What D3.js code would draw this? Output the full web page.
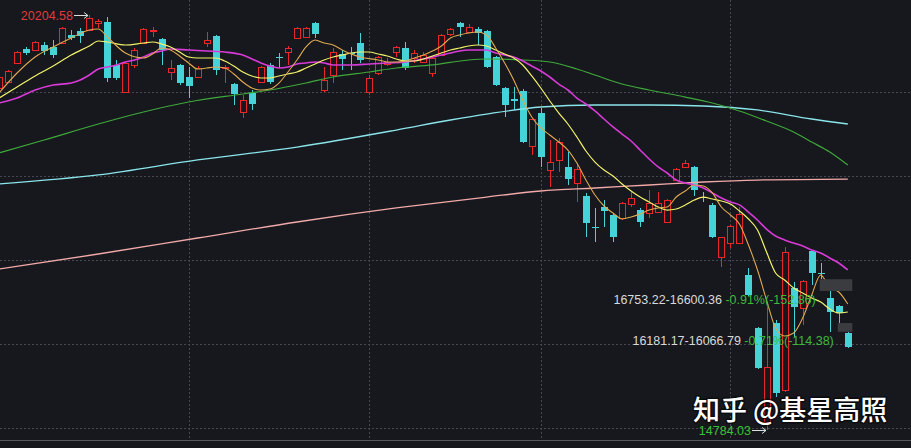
<!DOCTYPE html>
<html><head><meta charset="utf-8">
<script src="https://cdn.jsdelivr.net/npm/d3@7/dist/d3.min.js"></script>
<style>html,body{margin:0;padding:0;background:#16181d;overflow:hidden}</style>
</head><body>
<svg id="c" width="911" height="448"></svg>
<script>
// ---- data ----
const opens  = [19251,19329,19577,19760,19747,19812,19786,19838,19943,19995,20008,20100,20113,19551,19198,19551,19838,19995,19891,19460,19551,19394,19394,19838,19930,19512,19303,18938,19185,19329,19551,19656,19721,19904,19917,20100,19225,19420,19695,19708,19838,19198,19447,19564,19721,19773,19643,19590,19447,19682,19956,20100,19982,20021,19995,19656,19251,19107,19212,18494,18924,18180,18311,18219,18010,17840,17436,17697,17592,17553,17736,17658,17618,17631,17501,18049,18219,18219,17827,17723,17044,17227,17227,16808,16116,14889,16182,15306,16639,16377,17122,16835,16508,16404,16051];
const highs  = [19420,19486,19734,19786,19865,19851,19878,20047,20008,20034,20204.58,20152,20178,19616,19590,19773,20034,20047,19904,19616,19564,19525,19538,19982,19943,19551,19316,19160,19225,19538,19577,19708,19799,20047,20047,20113,19525,19773,19747,19786,19969,19420,19669,19643,19799,19851,19747,19721,19656,19956,20034,20113,20087,20047,20008,19669,19264,19264,19238,18846,18990,18572,18598,18415,18271,17880,17684,17788,17618,17762,17893,17684,17919,17893,17801,18206,18311,18232,17893,17749,17305,17462,17697,16900,16129,16391,16221,17174,16717,16743,17135,16965,16600.36,16417,16066.79];
const lows   = [19225,19316,19564,19682,19734,19682,19643,19825,19878,19838,19995,20034,19329,19355,19185,19512,19825,19917,19551,19355,19290,19120,19381,19786,19420,19316,19029,18859,18964,19316,19303,19512,19551,19891,19904,19904,19198,19316,19486,19486,19577,19160,19420,19538,19656,19486,19577,19577,19394,19669,19930,19917,19969,19812,19512,19277,18872,18964,18533,18376,18219,17958,18154,17984,17762,17305,17240,17436,17240,17527,17697,17436,17553,17618,17488,18036,18206,17840,17762,17292,16913,17161,17227,16534,15581,14784.03,15215,15280,16000,16155,16678,16753.22,16064,16181.17,15851];
const closes = [19394,19473,19721,19708,19851,19734,19682,20034,19904,19930,20165,20126,19381,19381,19577,19747,20021,20008,19747,19512,19316,19277,19512,19878,19486,19525,19172,19094,19042,19525,19329,19643,19773,20034,20034,19956,19355,19721,19629,19695,19616,19381,19656,19590,19786,19512,19708,19682,19643,19943,20021,20047,20047,19969,19525,19290,19029,19081,18546,18846,18350,18285,18546,18062,18193,17488,17423,17645,17305,17749,17814,17501,17749,17749,17788,18193,18271,17919,17814,17305,17305,17449,17605,16547,15594,15607,15267,17109,16391,16730,16835,16822,16325,16312,15864];

// moving averages: [candle index, value]
const ma5 = [[0,19186],[2,19447],[4,19656],[6,19787],[8,19904],[10,20009],[11,20022],[12,19917],[14,19708],[16,19643],[17,19695],[18,19774],[19,19747],[20,19669],[21,19578],[22,19499],[23,19512],[24,19525],[25,19512],[26,19434],[27,19329],[28,19251],[29,19225],[30,19238],[31,19316],[32,19460],[33,19617],[34,19787],[35,19878],[36,19839],[37,19813],[38,19747],[39,19695],[40,19656],[42,19617],[43,19591],[44,19591],[45,19604],[46,19643],[47,19682],[48,19734],[49,19800],[50,19904],[51,19943],[52,19969],[53,19982],[54,19943],[55,19774],[56,19578],[57,19356],[58,19094],[59,18872],[60,18729],[61,18637],[62,18546],[63,18441],[64,18271],[65,18050],[66,17853],[67,17710],[68,17618],[69,17540],[70,17566],[71,17605],[72,17657],[73,17684],[74,17697],[75,17827],[76,17906],[77,17984],[78,17971],[79,17880],[80,17697],[81,17592],[82,17475],[83,17200],[84,16874],[85,16482],[86,16116],[87,16011],[88,16051],[89,16247],[90,16547],[91,16809],[92,16639],[93,16587],[94,16430]];
const ma10 = [[0,19120],[2,19264],[4,19408],[6,19538],[8,19682],[10,19800],[11,19865],[12,19852],[14,19813],[16,19839],[17,19852],[18,19826],[19,19787],[20,19721],[21,19656],[22,19643],[24,19643],[25,19604],[26,19538],[27,19460],[28,19408],[29,19382],[30,19382],[31,19408],[32,19434],[33,19460],[34,19512],[35,19565],[36,19617],[37,19656],[38,19682],[39,19708],[40,19721],[41,19721],[42,19695],[43,19669],[44,19630],[45,19604],[46,19604],[47,19630],[48,19669],[49,19708],[50,19747],[51,19774],[52,19800],[53,19813],[54,19800],[55,19747],[56,19695],[57,19643],[58,19552],[59,19408],[60,19251],[61,19081],[62,18924],[63,18781],[64,18611],[65,18428],[66,18284],[67,18180],[68,18102],[69,17997],[70,17906],[71,17827],[72,17762],[73,17697],[74,17657],[75,17671],[76,17723],[77,17788],[78,17827],[79,17801],[80,17775],[81,17736],[82,17645],[83,17540],[84,17396],[85,17109],[86,16835],[87,16743],[88,16639],[89,16573],[90,16508],[91,16456],[92,16364],[93,16312],[94,16325]];
const ma20 = [[0,19055],[2,19120],[4,19225],[6,19290],[8,19316],[9,19356],[10,19421],[11,19499],[12,19525],[13,19552],[14,19591],[15,19617],[16,19656],[17,19708],[18,19734],[19,19760],[21,19747],[23,19734],[25,19721],[27,19682],[28,19630],[29,19578],[30,19538],[31,19512],[32,19525],[33,19565],[34,19578],[35,19591],[36,19578],[37,19552],[39,19552],[41,19565],[43,19578],[45,19591],[47,19630],[49,19682],[50,19708],[51,19734],[52,19747],[54,19747],[55,19708],[56,19682],[57,19656],[58,19604],[59,19538],[60,19473],[61,19395],[62,19303],[63,19225],[64,19120],[65,19042],[66,18951],[67,18846],[68,18742],[69,18650],[70,18559],[71,18441],[72,18324],[73,18220],[74,18141],[75,18050],[76,18010],[77,17984],[78,17945],[79,17880],[80,17814],[81,17762],[82,17724],[83,17631],[84,17527],[85,17409],[86,17318],[87,17266],[88,17226],[89,17187],[90,17135],[91,17096],[92,17031],[93,16965],[94,16874]];
const ma60 = [[0,18402],[5,18572],[11,18781],[16,18938],[21,19068],[27,19173],[30,19225],[34,19316],[37,19395],[41,19460],[44,19512],[48,19552],[52,19617],[54,19630],[58,19617],[61,19591],[64,19499],[66,19421],[69,19303],[72,19225],[76,19133],[79,19055],[82,18951],[85,18820],[88,18676],[90,18546],[92,18415],[94,18245]];
const ma120 = [[0,17997],[11,18115],[22,18311],[33,18480],[44,18702],[50,18833],[54,18911],[60,19003],[66,19029],[72,19029],[78,19016],[84,18964],[90,18846],[94,18781]];
const ma250 = [[0,16887],[11,17083],[22,17292],[33,17501],[44,17684],[54,17827],[60,17906],[66,17945],[72,17984],[78,18023],[84,18049],[94,18062]];

const monthStarts = [21, 41, 60, 81];
const gridPrices = [19199, 18102, 17004, 15907, 14810];
const highMark = {index: 10, value: 20204.58, text: "20204.58"};
const lowMark  = {index: 85, value: 14784.03, text: "14784.03"};
const gaps = [
  {start: 91, hi: 16753.22, lo: 16600.36, range: "16753.22-16600.36", change: "-0.91%(-152.86)"},
  {start: 93, hi: 16181.17, lo: 16066.79, range: "16181.17-16066.79", change: "-0.71%(-114.38)"}
];
const bottomText = "8477";
const watermark = "知乎 @基星高照";

// ---- drawing ----
const W = 911, H = 448;
const svg = d3.select("#c");
svg.append("rect").attr("width", W).attr("height", H).attr("fill", "#16181d");

const x = d3.scaleLinear().domain([0, 94]).range([-1, 847.8]);
const y = d3.scaleLinear().domain([20204.58, 14784.03]).range([15, 430]);

const grid = svg.append("g").attr("stroke", "#454850").attr("stroke-dasharray", "2,2").attr("stroke-width", 1);
gridPrices.forEach(p => {
  const yy = Math.round(y(p)) + 0.5;
  grid.append("line").attr("x1", 0).attr("x2", W).attr("y1", yy).attr("y2", yy);
});
monthStarts.forEach(i => {
  const xx = Math.round(x(i)) + 0.5;
  grid.append("line").attr("x1", xx).attr("x2", xx).attr("y1", 0).attr("y2", 440);
});

// bottom separator
svg.append("line").attr("x1", 0).attr("x2", W).attr("y1", 440.5).attr("y2", 440.5)
  .attr("stroke", "#55585e").attr("stroke-width", 1);

const RED = "#e8262c", CYAN = "#45d3d8";
const cg = svg.append("g");
opens.forEach((o, i) => {
  const c = closes[i], h = highs[i], l = lows[i];
  const cx = Math.round(x(i));
  const up = c >= o;
  const top = Math.round(y(Math.max(o, c))), bot = Math.round(y(Math.min(o, c)));
  const yh = Math.round(y(h)), yl = Math.round(y(l));
  if (up) {
    if (top > yh) cg.append("line").attr("x1", cx + 0.5).attr("x2", cx + 0.5).attr("y1", yh).attr("y2", top).attr("stroke", RED);
    if (yl > bot) cg.append("line").attr("x1", cx + 0.5).attr("x2", cx + 0.5).attr("y1", bot).attr("y2", yl).attr("stroke", RED);
    cg.append("rect").attr("x", cx - 2.5).attr("y", top + 0.5).attr("width", 6).attr("height", Math.max(bot - top, 1))
      .attr("fill", "#16181d").attr("stroke", RED).attr("stroke-width", 1);
  } else {
    cg.append("line").attr("x1", cx + 0.5).attr("x2", cx + 0.5).attr("y1", yh).attr("y2", yl).attr("stroke", CYAN);
    cg.append("rect").attr("x", cx - 3).attr("y", top).attr("width", 7).attr("height", Math.max(bot - top, 1))
      .attr("fill", CYAN);
  }
});

// moving averages
const line = d3.line().x(d => x(d[0])).y(d => y(d[1])).curve(d3.curveMonotoneX);
const mas = [
  {d: ma250, c: "#f2a9a9", w: 1.3},
  {d: ma120, c: "#8ae6ea", w: 1.3},
  {d: ma60,  c: "#3ea83a", w: 1.2},
  {d: ma20,  c: "#d83ad8", w: 1.6},
  {d: ma10,  c: "#f2f26a", w: 1.2},
  {d: ma5,   c: "#e0a850", w: 1.1}
];
mas.forEach(m => svg.append("path").attr("d", line(m.d)).attr("fill", "none")
  .attr("stroke", m.c).attr("stroke-width", m.w));

// gap boxes + labels
const font = "'Liberation Sans', Arial, sans-serif";
gaps.forEach(g => {
  const x0 = x(g.start) - 1, x1 = x(94) + 4.5;
  svg.append("rect").attr("x", x0).attr("y", y(g.hi)).attr("width", x1 - x0)
    .attr("height", y(g.lo) - y(g.hi)).attr("fill", "#3b3c40");
  const t = svg.append("text").attr("x", x0 - 4).attr("y", y(g.lo) + 13)
    .attr("text-anchor", "end").attr("font-family", font).attr("font-size", 12.5);
  t.append("tspan").attr("fill", "#d9d9d9").text(g.range + " ");
  t.append("tspan").attr("fill", "#3cba3c").text(g.change);
});

// high / low markers
function marker(m, color) {
  const yy = Math.round(y(m.value)) + 0.5;
  const xe = Math.round(x(m.index)) - 1;
  const xs = xe - 14;
  svg.append("path").attr("d", `M${xs},${yy}H${xe}M${xe - 4},${yy - 3}L${xe},${yy}L${xe - 4},${yy + 3}`)
    .attr("fill", "none").attr("stroke", "#dcdcdc").attr("stroke-width", 1);
  svg.append("text").attr("x", xs - 1).attr("y", yy + 4.5).attr("text-anchor", "end")
    .attr("font-family", font).attr("font-size", 12.5).attr("fill", color).text(m.text);
}
marker(highMark, "#e03a3a");
marker(lowMark, "#36c236");

// text cut off at the bottom edge (as in the reference)
svg.append("text").attr("x", 0).attr("y", 457).attr("font-family", font).attr("font-size", 13)
  .attr("fill", "#d040d0").text(bottomText);

// watermark
const wmFont = "'Noto Sans CJK SC', sans-serif";
svg.append("text").attr("x", 693).attr("y", 420).attr("font-family", wmFont).attr("font-size", 27)
  .attr("font-weight", 500).attr("fill", "none").attr("stroke", "rgba(0,0,0,0.55)").attr("stroke-width", 3)
  .attr("stroke-linejoin", "round").text(watermark);
svg.append("text").attr("x", 693).attr("y", 420).attr("font-family", wmFont).attr("font-size", 27)
  .attr("font-weight", 500).attr("fill", "#ffffff").text(watermark);
</script>
</body></html>
